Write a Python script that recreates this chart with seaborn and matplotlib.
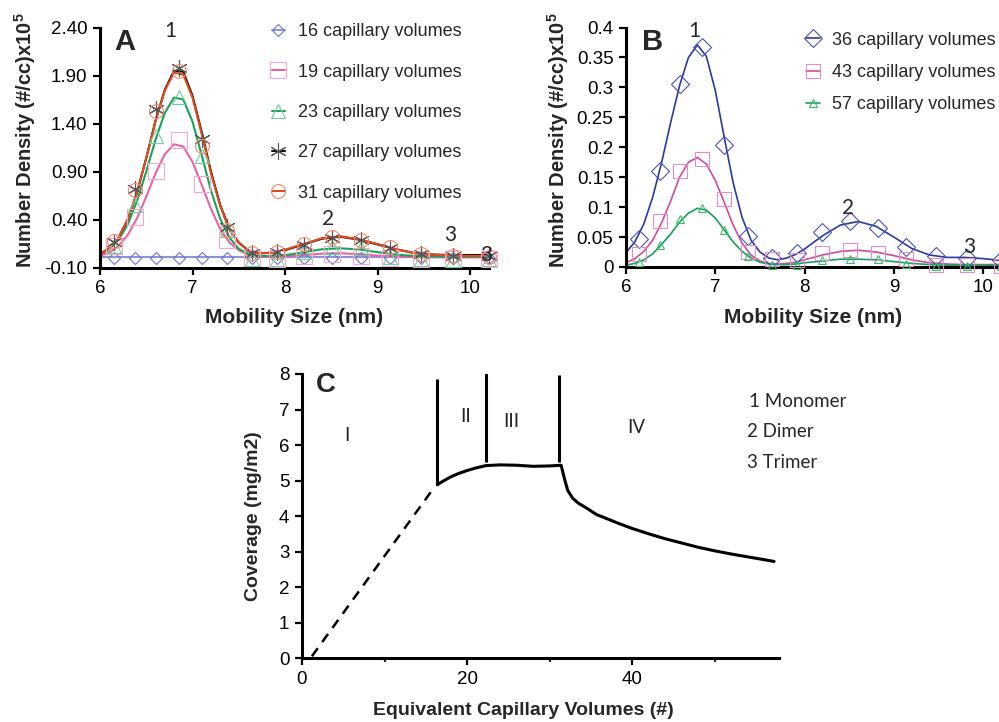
# import the libraries
import seaborn as sns
import matplotlib.pyplot as plt
from matplotlib.lines import Line2D

# mobility sizes (nm) of the measured SMPS channels
size_nm = [6.15, 6.38, 6.61, 6.85, 7.10, 7.37, 7.64, 7.91, 8.20, 8.51, 8.82, 9.14, 9.47, 9.82, 10.2]
fit_nm = [6.0, 6.1, 6.2, 6.3, 6.4, 6.5, 6.6, 6.7, 6.8, 6.9, 7.0, 7.1, 7.2, 7.3, 7.4, 7.5, 7.6, 7.7,
          7.8, 7.9, 8.0, 8.2, 8.4, 8.6, 8.8, 9.0, 9.2, 9.4, 9.6, 9.8, 10.0, 10.2]

# panel A : measured points (x10^5 #/cc)
a_names = ["16 capillary volumes", "19 capillary volumes", "23 capillary volumes",
           "27 capillary volumes", "31 capillary volumes"]
a16_pts = [0.004, 0.004, 0.004, 0.004, 0.004, 0.004, 0.004, 0.004, 0.004, 0.004, 0.004, 0.004, 0.004, 0.004, 0.004]
a19_pts = [0.12, 0.43, 0.91, 1.23, 0.77, 0.19, 0.00, -0.01, 0.02, 0.04, 0.02, 0.00, -0.01, -0.01, -0.01]
a23_pts = [0.12, 0.55, 1.27, 1.68, 1.06, 0.29, -0.01, -0.01, 0.06, 0.11, 0.10, 0.01, -0.01, -0.02, -0.01]
a27_pts = [0.17, 0.72, 1.55, 1.98, 1.24, 0.32, 0.05, 0.06, 0.13, 0.21, 0.19, 0.10, 0.04, 0.02, 0.02]
a31_pts = [0.18, 0.71, 1.53, 1.95, 1.17, 0.29, 0.05, 0.06, 0.14, 0.22, 0.19, 0.11, 0.04, 0.02, 0.01]

# panel A : fitted curves
a16_fit = [0.005, 0.005, 0.005, 0.005, 0.005, 0.005, 0.005, 0.005, 0.005, 0.005, 0.005, 0.005, 0.005, 0.005,
           0.005, 0.005, 0.005, 0.005, 0.005, 0.005, 0.005, 0.005, 0.005, 0.005, 0.005, 0.005, 0.005, 0.005,
           0.005, 0.005, 0.005, 0.005]
a19_fit = [0.023, 0.056, 0.123, 0.239, 0.413, 0.638, 0.88, 1.08, 1.184, 1.16, 1.0, 0.76, 0.51, 0.30, 0.16,
           0.08, 0.035, 0.015, 0.01, 0.012, 0.016, 0.03, 0.044, 0.048, 0.038, 0.024, 0.014, 0.008, 0.006,
           0.006, 0.006, 0.006]
a23_fit = [0.04, 0.09, 0.19, 0.35, 0.59, 0.90, 1.23, 1.51, 1.67, 1.65, 1.42, 1.07, 0.70, 0.405, 0.21,
           0.095, 0.045, 0.025, 0.018, 0.02, 0.028, 0.058, 0.090, 0.100, 0.088, 0.060, 0.035, 0.020,
           0.015, 0.013, 0.012, 0.012]
a27_fit = [0.04, 0.10, 0.21, 0.40, 0.68, 1.04, 1.43, 1.75, 1.95, 1.94, 1.69, 1.31, 0.90, 0.55, 0.30,
           0.16, 0.08, 0.05, 0.05, 0.06, 0.08, 0.14, 0.20, 0.22, 0.19, 0.14, 0.09, 0.05, 0.035, 0.03,
           0.03, 0.03]
a31_fit = [0.04, 0.10, 0.21, 0.40, 0.68, 1.04, 1.42, 1.74, 1.93, 1.91, 1.67, 1.29, 0.88, 0.54, 0.29,
           0.155, 0.08, 0.05, 0.05, 0.065, 0.085, 0.145, 0.205, 0.225, 0.195, 0.145, 0.09, 0.05, 0.033,
           0.025, 0.02, 0.02]

# panel B : measured points
b_names = ["36 capillary volumes", "43 capillary volumes", "57 capillary volumes"]
b36_pts = [0.047, 0.161, 0.305, 0.368, 0.204, 0.051, 0.015, 0.024, 0.058, 0.076, 0.065, 0.033, 0.018, 0.015, 0.011]
b43_pts = [0.022, 0.077, 0.161, 0.180, 0.113, 0.025, 0.014, 0.012, 0.023, 0.028, 0.024, 0.014, 0.004, 0.003, 0.002]
b57_pts = [0.008, 0.037, 0.080, 0.098, 0.062, 0.018, 0.003, 0.003, 0.011, 0.014, 0.013, 0.005, 0.002, 0.001, 0.001]

# panel B : fitted curves
b36_fit = [0.024, 0.042, 0.072, 0.117, 0.175, 0.241, 0.303, 0.350, 0.371, 0.352, 0.295, 0.217, 0.141, 0.083,
           0.045, 0.025, 0.015, 0.012, 0.015, 0.021, 0.030, 0.052, 0.070, 0.076, 0.068, 0.050, 0.031, 0.020,
           0.016, 0.016, 0.014, 0.011]
b43_fit = [0.007, 0.014, 0.026, 0.045, 0.074, 0.110, 0.150, 0.175, 0.183, 0.172, 0.145, 0.108, 0.070, 0.040,
           0.020, 0.010, 0.006, 0.005, 0.006, 0.008, 0.012, 0.020, 0.026, 0.028, 0.025, 0.019, 0.012, 0.007,
           0.005, 0.004, 0.004, 0.004]
b57_fit = [0.003, 0.006, 0.012, 0.022, 0.038, 0.055, 0.075, 0.090, 0.098, 0.095, 0.082, 0.062, 0.042, 0.026,
           0.015, 0.008, 0.005, 0.004, 0.004, 0.005, 0.007, 0.010, 0.013, 0.013, 0.012, 0.009, 0.006, 0.004,
           0.003, 0.003, 0.003, 0.003]

# panel C : coverage vs equivalent capillary volumes
c_dash_x = [1.2, 16.0]
c_dash_y = [0.05, 4.8]
c_x = [16.4, 17, 18, 19, 20, 21, 22.3, 24, 26, 28, 30, 31.4, 31.8, 32.2, 32.8, 33.5, 34.5, 35.7, 37, 38.5,
       40, 42, 44, 46, 48, 50, 52, 54, 56, 57.2]
c_y = [4.88, 4.97, 5.10, 5.20, 5.28, 5.35, 5.42, 5.44, 5.43, 5.40, 5.41, 5.43, 5.05, 4.72, 4.50, 4.36,
       4.22, 4.04, 3.92, 3.78, 3.65, 3.50, 3.36, 3.24, 3.12, 3.02, 2.93, 2.85, 2.77, 2.72]
region_x = [16.4, 22.3, 31.2]
region_bottom = [4.87, 5.53, 5.53]
region_top = [7.86, 8.06, 7.97]
region_names = ["I", "II", "III", "IV"]
key_names = ["1 Monomer", "2 Dimer", "3 Trimer"]

# styles: (fit colour, marker, marker colour, marker size)
a_styles = [("#8e93d8", "D", "#6b73c8", 6),
            ("#ea62a4", "s", "#f4a8cf", 11),
            ("#17a35a", "^", "#6fcf9c", 10),
            ("#111111", (6, 2, 0), "#555555", 12),
            ("#e8471a", "o", "#f2896a", 10)]
b_styles = [("#2b3a9c", "D", "#4753b2", 9),
            ("#d04b9c", "s", "#e38dc4", 10),
            ("#17a05a", "^", "#3dba72", 6)]

sns.set_theme(style="ticks")
plt.rcParams["font.family"] = ["Liberation Sans", "DejaVu Sans"]
plt.rcParams["mathtext.fontset"] = "custom"
plt.rcParams["mathtext.rm"] = "Liberation Sans"
plt.rcParams["mathtext.bf"] = "Liberation Sans:bold"
label_font = ["Lato", "DejaVu Sans"]

fig = plt.figure(figsize=(9.99, 7.22), dpi=100)
axA = fig.add_axes([0.1001, 0.6295, 0.3889, 0.3324])
axB = fig.add_axes([0.6266, 0.6302, 0.3754, 0.3317])
axC = fig.add_axes([0.3023, 0.0886, 0.4775, 0.3934])


def style_axes(ax):
    sns.despine(ax=ax)
    for side in ["left", "bottom"]:
        ax.spines[side].set_linewidth(2.2)
        ax.spines[side].set_color("black")
    ax.tick_params(direction="out", length=5, width=1.6, labelsize=13.5, colors="black", pad=4)


def draw_series(ax, fit, pts, style, lw):
    line_c, marker, mark_c, ms = style
    sns.lineplot(x=fit_nm, y=fit, ax=ax, color=line_c, lw=lw, zorder=2)
    sns.lineplot(x=size_nm, y=pts, ax=ax, color=mark_c, marker=marker, linestyle="none",
                 mfc="none", mec=mark_c, mew=0.8, ms=ms, zorder=3, clip_on=False)


# ---- panel A
for fit, pts, st in zip([a16_fit, a19_fit, a23_fit, a27_fit, a31_fit],
                        [a16_pts, a19_pts, a23_pts, a27_pts, a31_pts], a_styles):
    draw_series(axA, fit, pts, st, 1.5)
axA.set_xlim(6, 10.2)
axA.set_ylim(-0.10, 2.40)
a_ticks = [-0.10, 0.40, 0.90, 1.40, 1.90, 2.40]
axA.set_yticks(a_ticks)
axA.set_yticklabels([f"{v:.2f}" for v in a_ticks])
axA.set_xticks([6, 7, 8, 9, 10])
style_axes(axA)
axA.text(6.27, 2.25, "A", fontsize=21, fontweight="bold", ha="center", va="center")
axA.text(6.76, 2.36, "1", fontsize=15, family=label_font, ha="center", va="center")
axA.text(8.47, 0.41, "2", fontsize=15, family=label_font, ha="center", va="center")
axA.text(9.79, 0.24, "3", fontsize=15, family=label_font, ha="center", va="center")
axA.text(10.18, 0.03, "3", fontsize=15, family=label_font, ha="center", va="center")

# ---- panel B
for fit, pts, st in zip([b36_fit, b43_fit, b57_fit], [b36_pts, b43_pts, b57_pts], b_styles):
    draw_series(axB, fit, pts, st, 1.2)
axB.set_xlim(6, 10.2)
axB.set_ylim(0, 0.4)
b_ticks = [0, 0.05, 0.1, 0.15, 0.2, 0.25, 0.3, 0.35, 0.4]
axB.set_yticks(b_ticks)
axB.set_yticklabels([f"{v:g}" for v in b_ticks])
axB.set_xticks([6, 7, 8, 9, 10])
style_axes(axB)
axB.text(6.30, 0.376, "B", fontsize=21, fontweight="bold", ha="center", va="center")
axB.text(6.77, 0.394, "1", fontsize=15, family=label_font, ha="center", va="center")
axB.text(8.49, 0.098, "2", fontsize=15, family=label_font, ha="center", va="center")
axB.text(9.84, 0.033, "3", fontsize=15, family=label_font, ha="center", va="center")

ylab = r"Number Density (#/cc)x10$^{\mathbf{5}}$"
for ax in [axA, axB]:
    ax.set_xlabel("Mobility Size (nm)", fontsize=15, fontweight="bold")
    ax.set_ylabel(ylab, fontsize=14.5, fontweight="bold")
    ax.xaxis.set_label_coords(0.5, -0.17)
axA.yaxis.set_label_coords(-0.16, 0.53)
axB.yaxis.set_label_coords(-0.147, 0.53)

# legends
def make_handles(styles, lw):
    return [Line2D([], [], color=lc, lw=lw, marker=m, mfc="none", mec=mc, mew=0.8, ms=ms)
            for lc, m, mc, ms in styles]

axA.legend(handles=make_handles(a_styles, 1.5), labels=a_names, loc="upper left",
           bbox_to_anchor=(271.5 / 999, 1 - 23.5 / 722), bbox_transform=fig.transFigure,
           frameon=False, fontsize=13, handlelength=0.75, handletextpad=0.7,
           labelspacing=1.29, borderpad=0, borderaxespad=0)
axB.legend(handles=make_handles(b_styles, 1.2), labels=b_names, loc="upper left",
           bbox_to_anchor=(806 / 999, 1 - 31.8 / 722), bbox_transform=fig.transFigure,
           frameon=False, fontsize=13, handlelength=0.75, handletextpad=0.7,
           labelspacing=0.85, borderpad=0, borderaxespad=0)

# ---- panel C
sns.lineplot(x=c_dash_x, y=c_dash_y, ax=axC, color="black", lw=1.8, linestyle=(0, (4, 3)))
sns.lineplot(x=c_x, y=c_y, ax=axC, color="black", lw=2.2, sort=False)
axC.vlines(region_x, region_bottom, region_top, color="black", lw=2.2)
axC.set_xlim(0, 57.8)
axC.set_ylim(0, 8)
axC.set_xticks([0, 20, 40])
axC.set_xticks([10, 30, 50], minor=True)
axC.set_yticks(range(0, 9))
style_axes(axC)
axC.tick_params(axis="x", which="minor", direction="out", length=3, width=1.6)
axC.set_xlabel("Equivalent Capillary Volumes (#)", fontsize=14, fontweight="bold")
axC.set_ylabel("Coverage (mg/m2)", fontsize=14, fontweight="bold")
axC.xaxis.set_label_coords(0.465, -0.155)
axC.yaxis.set_label_coords(-0.084, 0.5)
axC.text(2.9, 7.69, "C", fontsize=20, fontweight="bold", ha="center", va="center")
for name, x, y in zip(region_names, [5.4, 19.8, 25.4, 40.5], [6.28, 6.8, 6.66, 6.48]):
    axC.text(x, y, name, fontsize=13.5, family=label_font, ha="center", va="center")
for name, x, y in zip(key_names, [54.2, 53.9, 53.9], [7.22, 6.37, 5.51]):
    axC.text(x, y, name, fontsize=13.5, family=label_font, ha="left", va="center")

fig.savefig("out.png", dpi=100)
